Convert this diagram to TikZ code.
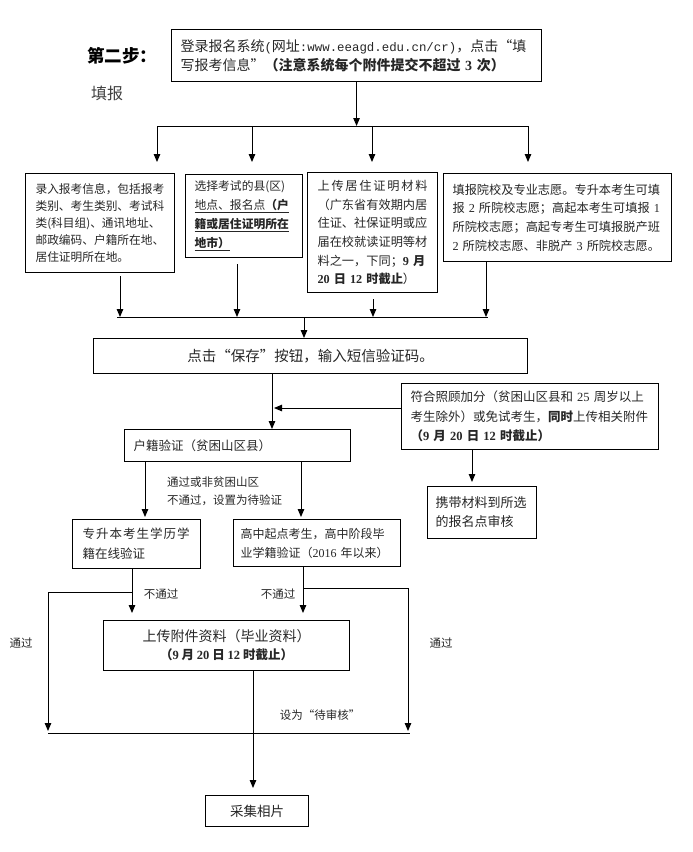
\documentclass[tikz,border=0pt]{standalone}
\usepackage{fontspec}
\setmainfont{Noto Sans CJK SC}
\newfontfamily\tnr{Liberation Serif}
\newfontfamily\monofam{Liberation Mono}
\usetikzlibrary{arrows.meta}
\newcommand\dg[1]{{\tnr #1}}
\newcommand\fsz[2]{\fontsize{#1}{#2}\selectfont}
\tikzset{
  bx/.style={draw, line width=1.1pt, inner sep=0pt, anchor=north west, align=left, text=black!85},
  cbx/.style={draw, line width=1.1pt, inner sep=0pt, anchor=north west, align=center, text=black!85},
  arr/.style={line width=1pt, -{Triangle[length=8pt,width=6.5pt]}},
  ln/.style={line width=1pt},
  lbl/.style={inner sep=0pt, font=\fsz{11.5}{14}, text=black!85}
}
\begin{document}
\begin{tikzpicture}[x=1pt,y=-1pt]
\useasboundingbox (0,0) rectangle (693,852);

% titles
\node[font=\bfseries\fsz{17.5}{20}, inner sep=0pt] (step) at (122,56) {第二步：};
\node[font=\fsz{16}{20}, text=black!75, inner sep=0pt] (fillin) at (107,93) {填报};

% top box
\node[bx, minimum width=370, minimum height=52, text width=352, font=\fsz{14}{19}] (top) at (171,29)
 {登录报名系统{\monofam\fsz{12.4}{19}(}网址{\monofam\fsz{12.4}{19}:www.eeagd.edu.cn/cr)}，点击“填\\
  写报考信息”\textbf{（注意系统每个附件提交不超过 \dg{3} 次）}};

% four boxes
\node[bx, minimum width=149, minimum height=99, text width=129, font=\fsz{11.7}{17}] (b1) at (25,173)
 {录入报考信息，包括报考\\类别、考生类别、考试科\\类(科目组)、通讯地址、\\邮政编码、户籍所在地、\\居住证明所在地。};
\node[bx, minimum width=117, minimum height=83, text width=99, font=\fsz{11.8}{19}] (b2) at (185,174)
 {选择考试的县(区)\\\underline{地点、报名点\textbf{（户}}\\\underline{\textbf{籍或居住证明所在}}\\\underline{\textbf{地市）}}};
\node[bx, minimum width=130, minimum height=120, text width=110, font=\fsz{12.2}{18.6}] (b3) at (307,172)
 {\makebox[110pt][s]{上\hfill 传\hfill 居\hfill 住\hfill 证\hfill 明\hfill 材\hfill 料}\\（广东省有效期内居\\住证、社保证明或应\\届在校就读证明等材\\料之一，下同；\textbf{\dg{9} 月}\\\textbf{\dg{20} 日 \dg{12} 时截止}）};
\node[bx, minimum width=228, minimum height=88, text width=210, font=\fsz{12.2}{18.6}] (b4) at (443,173)
 {填报院校及专业志愿。专升本考生可填\\报 \dg{2} 所院校志愿；高起本考生可填报 \dg{1}\\所院校志愿；高起专考生可填报脱产班\\\dg{2} 所院校志愿、非脱产 \dg{3} 所院校志愿。};

% save box
\node[cbx, minimum width=434, minimum height=35, font=\fsz{14.5}{18}] (save) at (93,338)
 {点击“保存”按钮，输入短信验证码。};

% household box
\node[bx, minimum width=226, minimum height=32, text width=208, font=\fsz{12.5}{18}] (hj) at (124,429)
 {户籍验证（贫困山区县）};
% bonus box
\node[bx, minimum width=257, minimum height=66, text width=239, font=\fsz{12.5}{19.5}] (fh) at (401,383)
 {符合照顾加分（贫困山区县和 \dg{25} 周岁以上\\考生除外）或免试考生，\textbf{同时}上传相关附件\\\textbf{（\dg{9} 月 \dg{20} 日 \dg{12} 时截止）}};
% carry box
\node[bx, minimum width=109, minimum height=52, text width=93, font=\fsz{13}{19}] (xd) at (427,486)
 {携带材料到所选\\的报名点审核};

% verification boxes
\node[bx, minimum width=128, minimum height=49, text width=108, font=\fsz{12.5}{20}] (zsb) at (72,519)
 {\makebox[107pt][s]{专\hfill 升\hfill 本\hfill 考\hfill 生\hfill 学\hfill 历\hfill 学}\\籍在线验证};
\node[bx, minimum width=167, minimum height=47, text width=153, font=\fsz{12}{19}] (gz) at (233,519)
 {高中起点考生，高中阶段毕\\\mbox{业学籍验证（\dg{2016} 年以来）}};

% upload box
\node[cbx, minimum width=246, minimum height=50, font=\fsz{14}{18}] (up) at (103,620)
 {上传附件资料（毕业资料）\\{\fsz{12.5}{18}\bfseries（\dg{9} 月 \dg{20} 日 \dg{12} 时截止）}};

% photo box
\node[cbx, minimum width=103, minimum height=31, font=\fsz{13.5}{18}] (cj) at (205,795) {采集相片};

% coordinates
\coordinate (brL) at (157,126);
\coordinate (a2) at (252,126);
\coordinate (a3) at (372,126);
\coordinate (brR) at (528,126);
\coordinate (cL) at (117,317);
\coordinate (cR) at (488,317);
\coordinate (c1) at (120,317);
\coordinate (c2) at (237,317);
\coordinate (c3) at (373,317);
\coordinate (c4) at (486,317);
\coordinate (c0) at (304,317);
\coordinate (j1) at (272,408);
\coordinate (k) at (472,482);
\coordinate (p1) at (145,517);
\coordinate (p2) at (301,517);
\coordinate (q1) at (132,592);
\coordinate (q1t) at (132,613);
\coordinate (q1L) at (48,592);
\coordinate (q1B) at (48,731);
\coordinate (q2) at (303,588);
\coordinate (q2t) at (303,613);
\coordinate (q2R) at (408,588);
\coordinate (q2B) at (408,731);
\coordinate (dL) at (48,733);
\coordinate (dR) at (410,733);
\coordinate (e) at (253,788);

% connectors top
\draw[arr] (top.south) -- (top.south |- brL);
\draw[ln] (brL) -- (brR);
\draw[arr, shorten >=11pt] (brL) -- (brL |- b1.north);
\draw[arr, shorten >=12pt] (a2) -- (a2 |- b2.north);
\draw[arr, shorten >=10pt] (a3) -- (a3 |- b3.north);
\draw[arr, shorten >=11pt] (brR) -- (brR |- b4.north);

% collecting
\draw[arr, shorten <=3pt] (b1.south -| c1) -- (c1);
\draw[arr, shorten <=6pt] (b2.south -| c2) -- (c2);
\draw[arr, shorten <=6pt] (b3.south -| c3) -- (c3);
\draw[arr] (b4.south -| c4) -- (c4);
\draw[ln] (cL) -- (cR);
\draw[arr] (c0) -- (c0 |- save.north);

% save -> hj
\draw[arr] (save.south -| j1) -- (hj.north -| j1);
\draw[arr, shorten >=2pt] (fh.west |- j1) -- (j1);
\draw[arr] (fh.south -| k) -- (k);

% hj -> verification
\draw[arr] (hj.south -| p1) -- (p1);
\draw[arr] (hj.south -| p2) -- (p2);

% verification -> upload
\draw[arr] (zsb.south -| q1) -- (q1t);
\draw[arr] (q1) -- (q1L) -- (q1B);
\draw[arr] (gz.south -| q2) -- (q2t);
\draw[arr] (q2) -- (q2R) -- (q2B);
\draw[ln] (dL) -- (dR);
\draw[arr] (up.south -| e) -- (e);

% labels
\node[lbl, anchor=west] (l1) at (167,482) {通过或非贫困山区};
\node[lbl, anchor=west] (l2) at (167,500) {不通过，设置为待验证};
\node[lbl] (l3) at (161,594) {不通过};
\node[lbl] (l4) at (278,594) {不通过};
\node[lbl] (l5) at (21,643) {通过};
\node[lbl] (l6) at (441,643) {通过};
\node[lbl] (l7) at (320,715) {设为“待审核”};
\end{tikzpicture}
\end{document}
